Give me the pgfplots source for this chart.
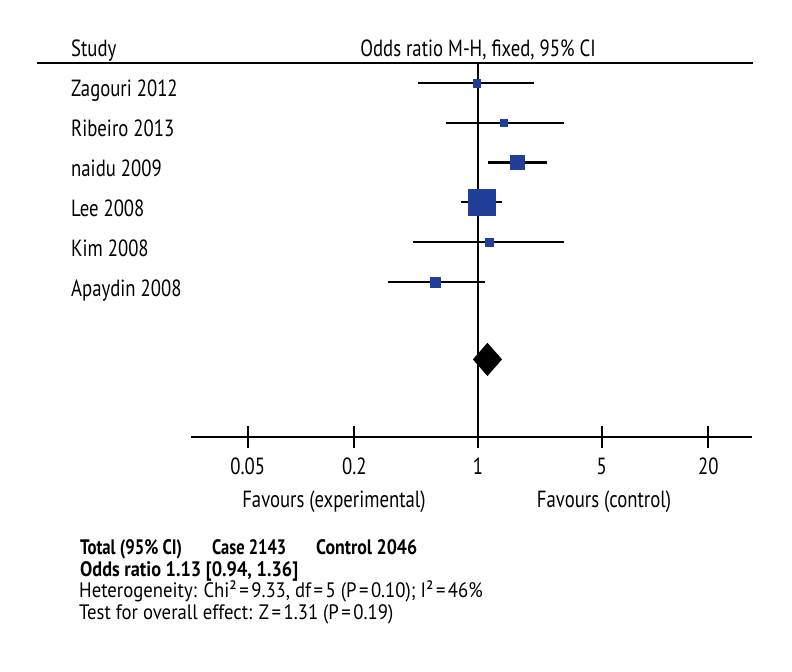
\documentclass[border=0pt]{standalone}
\usepackage{pgfplots}
\pgfplotsset{compat=1.18}
\usepackage{graphicx}
\usepackage{fontspec}
\setmainfont{PT Sans}[FakeStretch=0.8]
\newfontfamily\sumrm{PT Sans}[FakeStretch=0.895]
\newfontfamily\sumbf{PT Sans}
\definecolor{sq}{RGB}{33,63,153}
\newcommand{\lab}{\fontsize{23.5}{27}\selectfont}
\newcommand{\bld}{\sumbf\fontsize{21}{24}\selectfont\bfseries}
\newcommand{\sml}{\sumrm\fontsize{21}{24}\selectfont}
\newcommand{\eq}{\hspace{2.5bp}=\hspace{2.5bp}}
\newcommand{\fitw}[2]{\resizebox{#1}{\height}{#2}}
\begin{document}
\begin{tikzpicture}[x=1bp,y=1bp]
\path[use as bounding box] (0,0) rectangle (792,672);
\begin{axis}[at={(191bp,235bp)}, anchor=south west, scale only axis,
  width=561bp, height=374bp,
  xmode=log, xmin=0.0239, xmax=35.32, ymin=0.1, ymax=9.5,
  axis x line=bottom, axis y line=none,
  axis line style={-, line width=2bp, black},
  xtick={0.05,0.2,1,5,20}, xticklabels={0.05,0.2,1,5,20}, minor xtick={},
  xtick align=center, major tick length=22bp,
  tick style={black, line width=2bp},
  xticklabel style={font=\lab, anchor=base, yshift=-27bp},
  clip=false]
% line of no effect
\addplot[black, line width=2bp] coordinates {(1,0.1) (1,9.5)};
% confidence intervals
\addplot[black, line width=2.2bp] coordinates {(0.46,9) (2.08,9)};
\addplot[black, line width=2.2bp] coordinates {(0.66,8) (3.06,8)};
\addplot[black, line width=2.2bp] coordinates {(1.14,7) (2.44,7)};
\addplot[black, line width=2.2bp] coordinates {(0.80,6) (1.37,6)};
\addplot[black, line width=2.2bp] coordinates {(0.43,5) (3.06,5)};
\addplot[black, line width=2.2bp] coordinates {(0.31,4) (1.10,4)};
% study estimates (square size = weight)
\addplot[only marks, mark=square*, mark size=3.8bp, mark options={fill=sq, draw=sq, line width=0.3bp}] coordinates {(0.98,9)};
\addplot[only marks, mark=square*, mark size=3.7bp, mark options={fill=sq, draw=sq, line width=0.3bp}] coordinates {(1.40,8)};
\addplot[only marks, mark=square*, mark size=7.0bp, mark options={fill=sq, draw=sq, line width=0.3bp}] coordinates {(1.67,7)};
\addplot[only marks, mark=square*, mark size=13.2bp, mark options={fill=sq, draw=sq, line width=0.3bp}] coordinates {(1.05,6)};
\addplot[only marks, mark=square*, mark size=3.9bp, mark options={fill=sq, draw=sq, line width=0.3bp}] coordinates {(1.15,5)};
\addplot[only marks, mark=square*, mark size=5.0bp, mark options={fill=sq, draw=sq, line width=0.3bp}] coordinates {(0.57,4)};
% pooled estimate
\addplot[fill=black, draw=black, line width=0.5bp] coordinates {(0.94,2.05) (1.13,2.457) (1.36,2.05) (1.13,1.643)} -- cycle;
\end{axis}
% header
\draw[line width=2bp] (36.7,608.7) -- (752.7,608.7);
\node[font=\lab, anchor=base west, inner sep=0pt] at (71,615) {Study};
\node[font=\lab, anchor=base, inner sep=0pt] at (478,615) {Odds ratio M-H, fixed, 95\% CI};
% study labels
\node[font=\lab, anchor=base west, inner sep=0pt] at (71,575.5) {Zagouri 2012};
\node[font=\lab, anchor=base west, inner sep=0pt] at (71,535.5) {Ribeiro 2013};
\node[font=\lab, anchor=base west, inner sep=0pt] at (71,495.5) {naidu 2009};
\node[font=\lab, anchor=base west, inner sep=0pt] at (71,455.5) {Lee 2008};
\node[font=\lab, anchor=base west, inner sep=0pt] at (71,415.5) {Kim 2008};
\node[font=\lab, anchor=base west, inner sep=0pt] at (71,375.5) {Apaydin 2008};
% favours
\node[font=\lab, anchor=base, inner sep=0pt] at (334,164) {Favours (experimental)};
\node[font=\lab, anchor=base, inner sep=0pt] at (604,164) {Favours (control)};
% summary text
\node[font=\bld, anchor=base west, inner sep=0pt] at (80,117) {\fitw{102bp}{Total (95\% CI)}};
\node[font=\bld, anchor=base west, inner sep=0pt] at (212,117) {\fitw{74bp}{Case 2143}};
\node[font=\bld, anchor=base west, inner sep=0pt] at (316,117) {\fitw{101bp}{Control 2046}};
\node[font=\bld, anchor=base west, inner sep=0pt] at (80,95.5) {\fitw{218bp}{Odds ratio 1.13 [0.94, 1.36]}};
\node[font=\sml, anchor=base west, inner sep=0pt] at (79,74) {Heterogeneity: Chi²\eq9.33, df\eq5 (P\eq0.10); I²\eq46\%};
\node[font=\sml, anchor=base west, inner sep=0pt] at (79,52.5) {Test for overall effect: Z\eq1.31 (P\eq0.19)};
\end{tikzpicture}
\end{document}
